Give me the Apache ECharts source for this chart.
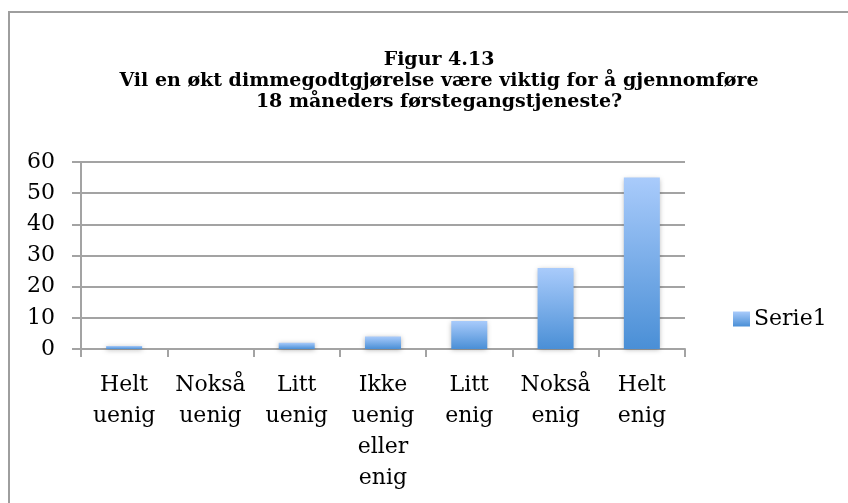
<!DOCTYPE html>
<html>
<head>
<meta charset="utf-8">
<script src="https://cdn.jsdelivr.net/npm/echarts@6/dist/echarts.min.js"></script>
<style>
  html, body { margin: 0; padding: 0; background: #fff; }
  #chart { width: 848px; height: 503px; }
</style>
</head>
<body>
<div id="chart"></div>
<script>
// kategorier og verdier (Figur 4.13)
var categories = ['Helt uenig', 'Nokså uenig', 'Litt uenig', 'Ikke uenig eller enig', 'Litt enig', 'Nokså enig', 'Helt enig'];
var serie1 = [1, 0, 2, 4, 9, 26, 55];
var yTicks = [0, 10, 20, 30, 40, 50, 60];

var titleText = 'Figur 4.13\nVil en økt dimmegodtgjørelse være viktig for å gjennomføre\n18 måneders førstegangstjeneste?';

function chart() {
    var myChart = echarts.init(document.getElementById('chart'));
    var gray = '#a3a3a3';

    var option = {
        animation: false,
        backgroundColor: '#fff',
        title: {
            text: titleText,
            left: 434,
            top: 45,
            textAlign: 'center',
            textStyle: {
                fontFamily: 'DejaVu Serif',
                fontWeight: 'bold',
                fontSize: 19,
                lineHeight: 21,
                color: '#000'
            }
        },
        graphic: [
            {
                type: 'rect',
                shape: { x: 9, y: 12, width: 900, height: 560 },
                style: { fill: 'none', stroke: '#9e9e9e', lineWidth: 2 }
            }
        ],
        legend: {
            data: ['Serie1'],
            left: 733,
            top: 308,
            padding: 0,
            orient: 'vertical',
            icon: 'rect',
            itemWidth: 17,
            itemHeight: 15,
            textStyle: {
                fontFamily: 'DejaVu Serif',
                fontSize: 22,
                color: '#000',
                padding: [0, 0, 0, -1]
            }
        },
        grid: {
            left: 81,
            right: 848 - 685,
            top: 162,
            bottom: 503 - 349
        },
        xAxis: {
            type: 'category',
            data: categories,
            axisLine: { show: true, lineStyle: { color: gray, width: 2 } },
            axisTick: { show: true, alignWithLabel: false, length: 8, lineStyle: { color: gray, width: 2 } },
            axisLabel: {
                interval: 0,
                margin: 21,
                fontFamily: 'DejaVu Serif',
                fontSize: 22,
                lineHeight: 31,
                color: '#000',
                formatter: function (v) { return v.split(' ').join('\n'); }
            }
        },
        yAxis: {
            type: 'value',
            min: 0,
            max: 60,
            interval: 10,
            axisLine: { show: true, lineStyle: { color: gray, width: 2 } },
            axisTick: { show: true, length: 9, lineStyle: { color: gray, width: 2 } },
            splitLine: { show: true, lineStyle: { color: gray, width: 2 } },
            axisLabel: {
                margin: 26,
                fontFamily: 'DejaVu Serif',
                fontSize: 22,
                color: '#000',
                formatter: function (v) { return yTicks.indexOf(v) >= 0 ? String(v) : ''; }
            }
        },
        series: [
            {
                name: 'Serie1',
                type: 'bar',
                data: serie1,
                barWidth: 36,
                itemStyle: {
                    color: new echarts.graphic.LinearGradient(0, 0, 0, 1, [
                        { offset: 0, color: '#a9cbfb' },
                        { offset: 1, color: '#4a8fd6' }
                    ]),
                    shadowColor: 'rgba(0,0,0,0.3)',
                    shadowBlur: 5,
                    shadowOffsetY: 1
                }
            }
        ]
    };
    myChart.setOption(option);

    window.addEventListener('resize', function () {
        myChart.resize();
    });
}
chart();
</script>
</body>
</html>
